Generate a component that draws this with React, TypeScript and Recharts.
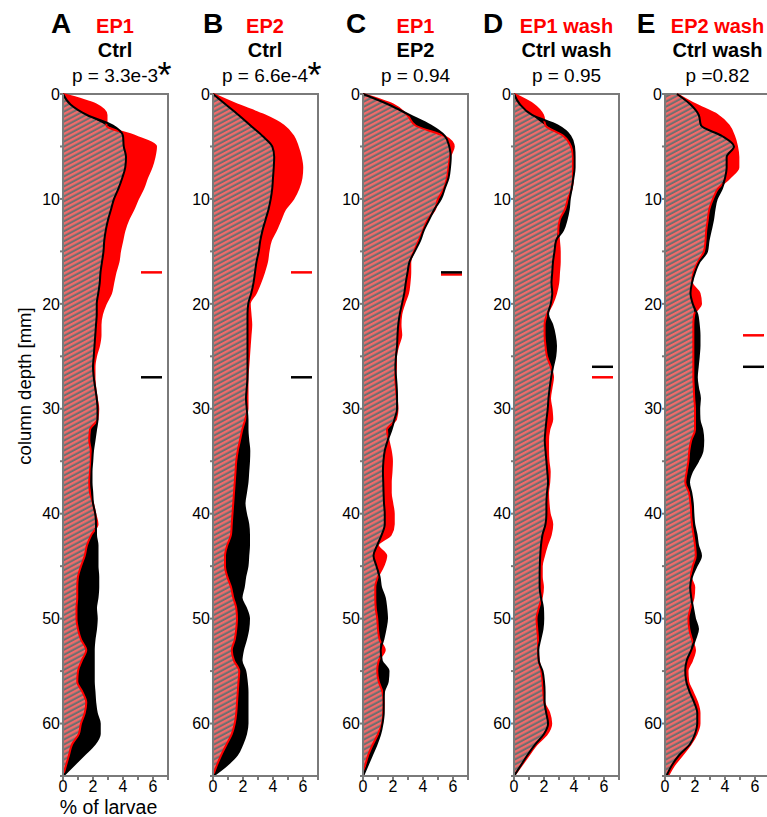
import { ComposedChart, Area, Line, XAxis, YAxis, ReferenceLine, ReferenceArea } from 'recharts';

// depth along the column (mm), shared by every panel
const DEPTH = [
    0, 1, 2, 3, 4, 5, 6, 7, 8, 9, 10, 11, 12, 13, 14, 15, 16, 17, 18, 19, 20, 21, 22, 23, 24, 25, 26, 27, 28, 29, 30, 31, 32,
    33, 34, 35, 36, 37, 38, 39, 40, 41, 42, 43, 44, 45, 46, 47, 48, 49, 50, 51, 52, 53, 54, 55, 56, 57, 58, 59, 60, 61, 62,
    63, 64, 65,
];

// % of larvae, red group of each panel
const RED_A = [
    0, 2.2, 2.9, 2.9, 4.8, 6.2, 6.1, 5.9, 5.6, 5.35, 5.0, 4.7, 4.35, 4.1, 3.95, 3.8, 3.7, 3.5, 3.35, 3.2, 2.85, 2.6, 2.5, 2.5,
    2.4, 2.2, 2.1, 2.1, 2.15, 2.25, 2.35, 2.3, 1.8, 1.75, 1.85, 1.85, 1.8, 1.75, 1.8, 2.0, 2.15, 2.3, 1.9, 1.6, 1.45, 1.2, 1.0,
    0.95, 0.95, 0.9, 0.9, 1.0, 1.2, 1.55, 1.25, 1.0, 0.95, 1.3, 1.55, 1.45, 1.2, 1.05, 0.6, 0.4, 0.2, 0,
];
const RED_B = [
    0, 1.6, 3.4, 4.7, 5.35, 5.65, 5.85, 5.95, 5.9, 5.7, 5.35, 4.8, 4.5, 4.2, 3.85, 3.7, 3.6, 3.4, 3.15, 2.85, 2.45, 2.5, 2.55,
    2.5, 2.45, 2.4, 2.35, 2.3, 2.3, 2.3, 2.3, 2.15, 1.95, 1.8, 1.65, 1.55, 1.5, 1.45, 1.4, 1.35, 1.3, 1.25, 1.2, 0.95, 0.8, 0.8,
    0.95, 1.2, 1.35, 1.55, 1.6, 1.55, 1.45, 1.25, 1.4, 1.75, 1.7, 1.65, 1.6, 1.55, 1.45, 1.25, 0.9, 0.55, 0.25, 0,
];
const RED_C = [
    0, 2.0, 2.95, 3.5, 5.4, 6.05, 5.8, 5.7, 5.6, 5.4, 5.0, 4.8, 4.3, 4.0, 3.7, 3.4, 3.15, 3.15, 3.1, 3.0, 2.75, 2.55, 2.5, 2.55,
    2.35, 2.2, 2.2, 2.15, 2.2, 2.25, 2.3, 2.2, 1.6, 1.7, 1.85, 1.93, 1.9, 1.85, 1.85, 1.95, 2.05, 2.05, 1.85, 1.0, 1.55, 1.35,
    1.0, 0.82, 0.82, 0.85, 0.95, 1.0, 1.1, 1.45, 1.05, 0.95, 1.05, 1.3, 1.38, 1.35, 1.27, 1.0, 0.65, 0.35, 0.15, 0,
];
const RED_D = [
    0, 1.3, 1.93, 2.1, 3.3, 3.8, 3.93, 3.93, 3.93, 3.85, 3.6, 3.4, 3.05, 2.95, 3.0, 3.05, 3.05, 3.0, 2.95, 2.8, 2.55, 2.2, 2.04,
    2.04, 2.1, 2.2, 2.45, 2.6, 2.5, 2.4, 2.5, 2.55, 2.35, 2.27, 2.27, 2.3, 2.38, 2.35, 2.27, 2.3, 2.38, 2.55, 2.45, 2.2, 2.0,
    1.85, 1.85, 1.93, 1.85, 1.65, 1.5, 1.55, 1.6, 1.6, 1.65, 1.82, 1.9, 1.95, 2.02, 2.35, 2.48, 2.2, 1.5, 1.0, 0.5, 0,
];
const RED_E = [
    0.8, 2.05, 3.5, 4.25, 4.6, 4.8, 4.89, 4.89, 4.3, 3.55, 3.2, 2.95, 2.85, 2.75, 2.7, 2.6, 2.2, 1.9, 1.8, 2.3, 2.4, 1.95, 1.89,
    1.89, 1.89, 1.89, 1.89, 1.89, 1.92, 1.95, 2.0, 2.0, 2.0, 1.75, 1.62, 1.56, 1.45, 1.35, 1.6, 1.7, 1.75, 1.8, 1.9, 2.0, 2.05,
    1.85, 1.72, 1.95, 1.9, 1.7, 1.56, 1.62, 1.8, 2.0, 1.8, 1.5, 1.55, 1.85, 2.15, 2.3, 2.3, 2.1, 1.7, 1.15, 0.6, 0.2,
];

// % of larvae, black group of each panel
const BLACK_A = [
    0, 0.5, 1.6, 3.3, 4.0, 4.05, 4.2, 4.15, 3.95, 3.7, 3.4, 3.2, 3.0, 2.85, 2.75, 2.7, 2.6, 2.5, 2.45, 2.35, 2.25, 2.25, 2.2,
    2.15, 2.1, 2.05, 2.0, 2.05, 2.15, 2.25, 2.3, 2.3, 2.2, 2.1, 2.0, 1.95, 1.9, 1.9, 1.95, 2.0, 2.15, 2.2, 2.2, 2.3, 2.3, 2.3,
    2.35, 2.35, 2.3, 2.2, 2.25, 2.2, 2.1, 2.05, 2.05, 2.05, 2.05, 2.1, 2.15, 2.25, 2.45, 2.45, 2.1, 1.4, 0.7, 0,
];
const BLACK_B = [
    0, 0.85, 1.7, 2.5, 3.3, 3.95, 4.08, 4.05, 4.0, 3.95, 3.85, 3.7, 3.5, 3.3, 3.15, 3.05, 2.9, 2.8, 2.7, 2.55, 2.35, 2.3, 2.3,
    2.3, 2.3, 2.3, 2.3, 2.3, 2.25, 2.2, 2.25, 2.3, 2.3, 2.35, 2.42, 2.4, 2.35, 2.3, 2.2, 2.1, 2.2, 2.35, 2.4, 2.4, 2.35, 2.3,
    2.15, 2.05, 1.9, 2.2, 2.4, 2.35, 2.2, 2.0, 1.9, 2.15, 2.25, 2.3, 2.3, 2.3, 2.3, 2.2, 1.95, 1.6, 0.9, 0,
];
const BLACK_C = [
    0, 1.7, 3.1, 4.5, 5.45, 5.75, 5.85, 5.8, 5.7, 5.45, 5.2, 4.75, 4.4, 4.05, 3.8, 3.45, 3.1, 2.97, 2.85, 2.75, 2.6, 2.45, 2.35,
    2.3, 2.27, 2.2, 2.16, 2.2, 2.25, 2.27, 2.27, 2.1, 1.9, 1.65, 1.45, 1.36, 1.33, 1.35, 1.37, 1.4, 1.45, 1.45, 1.25, 0.95, 0.7,
    0.9, 1.1, 1.2, 1.45, 1.55, 1.6, 1.5, 1.35, 1.18, 1.25, 1.7, 1.65, 1.4, 1.38, 1.38, 1.3, 1.15, 0.9, 0.6, 0.3, 0,
];
const BLACK_D = [
    0, 0.4, 1.2, 2.9, 3.75, 4.0, 4.04, 4.04, 3.96, 3.85, 3.72, 3.65, 3.5, 3.27, 2.8, 2.7, 2.6, 2.55, 2.5, 2.55, 2.45, 2.27, 2.55,
    2.72, 2.8, 2.75, 2.6, 2.48, 2.38, 2.3, 2.25, 2.17, 2.1, 2.05, 2.1, 2.16, 2.22, 2.27, 2.2, 2.16, 2.16, 2.1, 1.9, 1.8, 1.75,
    1.72, 1.71, 1.71, 1.8, 1.93, 1.95, 1.9, 1.75, 1.62, 1.65, 1.9, 2.0, 2.04, 2.04, 2.15, 2.27, 2.0, 1.4, 0.9, 0.45, 0,
];
const BLACK_E = [
    0.8, 1.7, 2.25, 2.4, 3.8, 4.6, 4.11, 4.11, 4.0, 3.8, 3.45, 3.3, 3.2, 3.05, 2.9, 2.8, 2.3, 2.0, 1.8, 1.7, 1.85, 2.15, 2.25,
    2.3, 2.3, 2.25, 2.18, 2.12, 2.2, 2.33, 2.28, 2.3, 2.48, 2.55, 2.5, 2.2, 1.8, 1.6, 1.75, 1.85, 1.89, 1.95, 2.1, 2.2, 2.4,
    2.1, 1.8, 1.68, 1.75, 1.87, 2.0, 2.2, 2.0, 1.75, 1.45, 1.35, 1.42, 1.65, 1.95, 2.15, 2.15, 2.0, 1.65, 0.95, 0.45, 0.1,
];

const RED_SERIES = [RED_A, RED_B, RED_C, RED_D, RED_E];
const BLACK_SERIES = [BLACK_A, BLACK_B, BLACK_C, BLACK_D, BLACK_E];

// mean depth markers (mm)
const RED_MEAN = [17, 17, 17.2, 27, 23];
const BLACK_MEAN = [27, 27, 17, 26, 26];

// panel headings
const LETTERS = ['A', 'B', 'C', 'D', 'E'];
const RED_NAMES = ['EP1', 'EP2', 'EP1', 'EP1 wash', 'EP2 wash'];
const BLACK_NAMES = ['Ctrl', 'Ctrl', 'EP2', 'Ctrl wash', 'Ctrl wash'];
const P_VALUES = ['p = 3.3e-3', 'p = 6.6e-4', 'p = 0.94', 'p = 0.95', 'p =0.82'];
const SIGNIFICANT = [true, true, false, false, false];

const X_TICKS = [0, 1, 2, 3, 4, 5, 6, 7];
const Y_TICKS = [0, 5, 10, 15, 20, 25, 30, 35, 40, 45, 50, 55, 60, 65];

const FONT = '"Liberation Sans", Arial, Helvetica, sans-serif';
const RED = '#ff0000';
const AXIS = '#7a7a7a';
const PLOT_LEFT = [62.5, 212.5, 363, 514, 665];
const LETTER_X = [61, 213, 356, 493, 646];
const PLOT_W = 105;
const Y_AXIS_W = 40;

function Panel({ idx }: { idx: number }) {
    const rows = DEPTH.map((depth, i) => ({
        depth,
        red: RED_SERIES[idx][i],
        black: BLACK_SERIES[idx][i],
        both: Math.min(RED_SERIES[idx][i], BLACK_SERIES[idx][i]),
    }));

    return (
        <div style={{ position: 'absolute', left: PLOT_LEFT[idx] - Y_AXIS_W, top: 0 }}>
            <ComposedChart
                layout="vertical"
                width={Y_AXIS_W + PLOT_W + 5}
                height={817}
                data={rows}
                margin={{ top: 94, right: 5, bottom: 0, left: 0 }}
            >
                <XAxis
                    type="number"
                    domain={[0, 7]}
                    ticks={X_TICKS}
                    interval={0}
                    height={41}
                    tickSize={4}
                    tickMargin={1}
                    stroke={AXIS}
                    strokeWidth={2}
                    tick={{ fill: '#000', fontSize: 16, fontFamily: FONT }}
                    tickFormatter={(v: number) => (v % 2 === 0 && v < 7 ? String(v) : '')}
                />
                <YAxis
                    type="number"
                    dataKey="depth"
                    domain={[0, 65]}
                    ticks={Y_TICKS}
                    interval={0}
                    width={Y_AXIS_W}
                    tickSize={3}
                    tickMargin={0}
                    stroke={AXIS}
                    strokeWidth={2}
                    tick={{ fill: '#000', fontSize: 16, fontFamily: FONT }}
                    tickFormatter={(v: number) => (v % 10 === 0 ? String(v) : '')}
                />
                <Area dataKey="red" type="monotone" fill={RED} fillOpacity={1} stroke="none" isAnimationActive={false} />
                <Area dataKey="black" type="monotone" fill="#000" fillOpacity={1} stroke="none" isAnimationActive={false} />
                <Area
                    dataKey="both"
                    type="monotone"
                    fill="url(#larvaeHatch)"
                    fillOpacity={1}
                    stroke="none"
                    isAnimationActive={false}
                />
                <Line dataKey="red" type="monotone" stroke={RED} strokeWidth={2} dot={false} isAnimationActive={false} />
                <Line dataKey="black" type="monotone" stroke="#000" strokeWidth={2} dot={false} isAnimationActive={false} />
                <ReferenceArea x1={0} x2={7} y1={0} y2={65} fill="none" fillOpacity={0} stroke={AXIS} strokeWidth={2} />
                <ReferenceLine
                    segment={[{ x: 5.2, y: RED_MEAN[idx] }, { x: 6.6, y: RED_MEAN[idx] }]}
                    stroke={RED}
                    strokeWidth={2.5}
                />
                <ReferenceLine
                    segment={[{ x: 5.2, y: BLACK_MEAN[idx] }, { x: 6.6, y: BLACK_MEAN[idx] }]}
                    stroke="#000"
                    strokeWidth={2.5}
                />
            </ComposedChart>
        </div>
    );
}

export default function App() {
    return (
        <div
            style={{
                position: 'absolute',
                left: 0,
                top: 0,
                width: 767,
                height: 817,
                overflow: 'hidden',
                background: '#fff',
                fontFamily: FONT,
            }}
        >
            <svg width={0} height={0} style={{ position: 'absolute' }}>
                <defs>
                    <pattern
                        id="larvaeHatch"
                        patternUnits="userSpaceOnUse"
                        width={8}
                        height={4.4}
                        patternTransform="rotate(-28)"
                    >
                        <rect width={8} height={4.4} fill="#6f6f6f" />
                        <rect width={8} height={2.3} fill="#f26a6a" />
                    </pattern>
                </defs>
            </svg>
            {LETTERS.map((_, i) => (
                <Panel key={i} idx={i} />
            ))}
            <svg width={767} height={817} style={{ position: 'absolute', left: 0, top: 0, pointerEvents: 'none' }}>
                {LETTERS.map((letter, i) => {
                    const cx = PLOT_LEFT[i] + PLOT_W / 2;
                    return (
                        <g key={letter} fontFamily={FONT}>
                            <text x={LETTER_X[i]} y={33} textAnchor="middle" fontSize={28} fontWeight="bold" fill="#000">
                                {letter}
                            </text>
                            <text x={cx} y={33} textAnchor="middle" fontSize={20} fontWeight="bold" fill={RED}>
                                {RED_NAMES[i]}
                            </text>
                            <text x={cx} y={57} textAnchor="middle" fontSize={20} fontWeight="bold" fill="#000">
                                {BLACK_NAMES[i]}
                            </text>
                            <text x={cx} y={82} textAnchor="middle" fontSize={19} fill="#000">
                                {P_VALUES[i]}
                            </text>
                            {SIGNIFICANT[i] && (
                                <text x={PLOT_LEFT[i] + 95} y={88} fontSize={36} fill="#000">
                                    *
                                </text>
                            )}
                        </g>
                    );
                })}
                <text
                    transform="translate(31,386) rotate(-90)"
                    textAnchor="middle"
                    fontSize={18.5}
                    fontFamily={FONT}
                    fill="#000"
                >
                    column depth [mm]
                </text>
                <text x={108.5} y={814} textAnchor="middle" fontSize={19.5} fontFamily={FONT} fill="#000">
                    % of larvae
                </text>
            </svg>
        </div>
    );
}
